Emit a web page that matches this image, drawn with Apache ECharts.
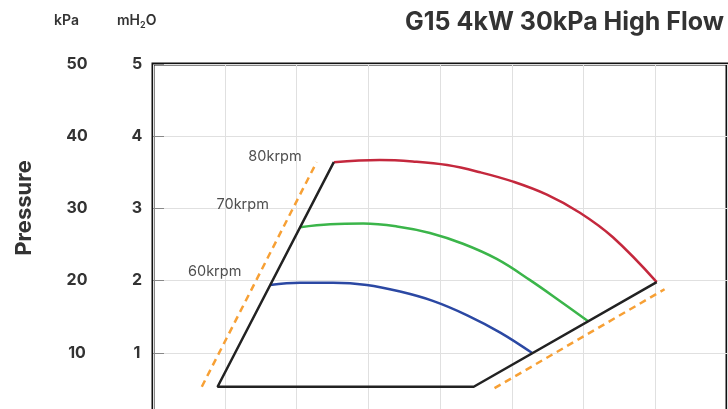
<!DOCTYPE html>
<html><head><meta charset="utf-8">
<script src="https://cdn.jsdelivr.net/npm/echarts@6/dist/echarts.min.js"></script>
<style>html,body{margin:0;padding:0;background:#fff;overflow:hidden;width:728px;height:409px}#c{width:728px;height:425px}</style>
</head><body><div id="c"></div>
<script>
const title = 'G15 4kW 30kPa High Flow';
const kpaTicks = [0, 10, 20, 30, 40, 50];
const mh2oTicks = [0, 1, 2, 3, 4, 5];
const speedNames = ['80krpm', '70krpm', '60krpm'];
const red80 = [[2.52,3.64],[3.16,3.67],[3.62,3.65],[4.10,3.60],[4.56,3.50],[5.02,3.37],[5.49,3.19],[5.95,2.94],[6.41,2.60],[7.02,1.98]];
const green70 = [[2.05,2.74],[2.47,2.78],[2.93,2.79],[3.40,2.75],[3.86,2.66],[4.32,2.51],[4.79,2.30],[5.25,2.01],[5.71,1.69],[6.06,1.44]];
const blue60 = [[1.63,1.94],[2.05,1.97],[2.51,1.97],[2.98,1.94],[3.44,1.85],[3.90,1.72],[4.38,1.52],[4.84,1.28],[5.28,1.0]];
const envelope = [[2.52,3.64],[0.9,0.53],[4.47,0.53],[7.02,1.98]];
const surgeLimit = [[0.68,0.53],[2.28,3.64]];
const maxFlowLimit = [[4.76,0.51],[7.13,1.88]];
const labelPos = [[1.7,3.71],[1.25,3.05],[0.86,2.13]];

const chart = echarts.init(document.getElementById('c'));
const font = 'Inter, "Noto Sans", sans-serif';
const curve = { type: 'line', smooth: 0.4, symbol: 'none' };
chart.setOption({
  animation: false,
  title: { text: title, right: -1, top: 5, textStyle: { fontFamily: font, fontWeight: 'bold', fontSize: 25, color: '#333' } },
  grid: { left: 153, right: 1, top: 64, bottom: 0, show: true, borderColor: '#111', borderWidth: 3 },
  xAxis: { type: 'value', min: 0, max: 8, interval: 1,
    axisLine: { show: false }, axisTick: { show: false }, axisLabel: { show: false },
    splitLine: { lineStyle: { color: '#e0e0e0', width: 1 } } },
  yAxis: [
    { type: 'value', min: 0, max: 5, interval: 1, position: 'left',
      axisLine: { show: false },
      axisTick: { show: true, inside: true, length: 11, lineStyle: { color: '#888', width: 1 } },
      axisLabel: { align: 'center', margin: 16, fontFamily: font, fontWeight: 'bold', fontSize: 16, color: '#333',
        formatter: v => mh2oTicks.includes(v) && v > 0 ? String(v) : '' },
      splitLine: { lineStyle: { color: '#e0e0e0', width: 1 } } },
    { type: 'value', min: 0, max: 50, interval: 10, position: 'left',
      axisLine: { show: false }, axisTick: { show: false }, splitLine: { show: false },
      axisLabel: { align: 'center', margin: 76, fontFamily: font, fontWeight: 'bold', fontSize: 16, color: '#333',
        formatter: v => kpaTicks.includes(v) && v > 0 ? String(v) : '' } }
  ],
  graphic: [
    { type: 'text', left: 54, top: 14, style: { text: 'kPa', fontFamily: font, fontWeight: 600, fontSize: 14, fill: '#333' } },
    { type: 'text', left: 117, top: 14, style: { text: 'mH{s|2}O', fontFamily: font, fontWeight: 600, fontSize: 14, fill: '#333',
      rich: { s: { fontSize: 9, fontWeight: 600, fontFamily: font, fill: '#333', padding: [8, 0, 0, 0] } } } },
    { type: 'text', x: 24, y: 208, rotation: Math.PI / 2, style: { text: 'Pressure', fontFamily: font, fontWeight: 'bold', fontSize: 22, fill: '#333', align: 'center', verticalAlign: 'middle' } }
  ],
  series: [
    Object.assign({}, curve, { data: red80, lineStyle: { color: '#c4283d', width: 2.5 } }),
    Object.assign({}, curve, { data: green70, lineStyle: { color: '#3bb54a', width: 2.5 } }),
    Object.assign({}, curve, { data: blue60, lineStyle: { color: '#2b48a3', width: 2.5 } }),
    { type: 'line', data: envelope, symbol: 'none', lineStyle: { color: '#222', width: 2.5 } },
    { type: 'line', data: surgeLimit, symbol: 'none', lineStyle: { color: '#f7a035', width: 2.5, type: [7, 5] } },
    { type: 'line', data: maxFlowLimit, symbol: 'none', lineStyle: { color: '#f7a035', width: 2.5, type: [7, 5] } },
    { type: 'scatter', symbolSize: 0, data: labelPos.map((p, i) => ({ value: p, name: speedNames[i] })),
      label: { show: true, position: 'inside', formatter: p => p.name, fontFamily: font, fontSize: 14.5, color: '#222' } }
  ]
});
</script></body></html>
